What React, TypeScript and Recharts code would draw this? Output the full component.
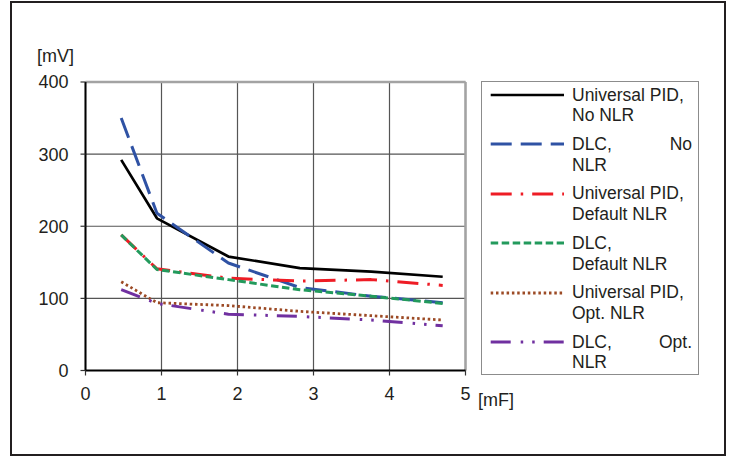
import React from 'react';
import { LineChart, Line, XAxis, YAxis, CartesianGrid, ReferenceLine } from 'recharts';

// Capacitance [mF]
const capacitance = [0.47, 0.94, 1.88, 2.82, 3.76, 4.7];
// Deviation [mV]
const pidNoNlr = [292, 211, 158, 142, 137, 130];
const dlcNoNlr = [350, 218, 149, 115, 103, 94];
const pidDefaultNlr = [188, 141, 128, 124, 126, 118];
const dlcDefaultNlr = [188, 140, 126, 112, 103, 93];
const pidOptNlr = [123, 94, 90, 82, 76, 70];
const dlcOptNlr = [112, 93, 78, 75, 70, 62];

const xTicks = [0, 1, 2, 3, 4, 5];
const yTicks = [0, 100, 200, 300, 400];

const seriesKeys = ['pidNo', 'dlcNo', 'pidDef', 'dlcDef', 'pidOpt', 'dlcOpt'];
const seriesValues = [pidNoNlr, dlcNoNlr, pidDefaultNlr, dlcDefaultNlr, pidOptNlr, dlcOptNlr];
const legendFirstLines = ['Universal PID,', 'DLC, No', 'Universal PID,', 'DLC,', 'Universal PID,', 'DLC, Opt.'];
const legendSecondLines = ['No NLR', 'NLR', 'Default NLR', 'Default NLR', 'Opt. NLR', 'NLR'];
const legendJustified = [false, true, false, false, false, true];

const seriesStyles = [
  { color: '#000000', dash: undefined as string | undefined, width: 2.7 },
  { color: '#2F52A4', dash: '21 9', width: 3 },
  { color: '#EE1C25', dash: '21 9 2.5 9', width: 3 },
  { color: '#239A5C', dash: '7.5 3.5', width: 3 },
  { color: '#9C4A25', dash: '2.5 2.8', width: 2.8 },
  { color: '#7030A0', dash: '20 10 2.5 9 2.5 9', width: 3 },
];

const data = capacitance.map((x, i) => {
  const row: Record<string, number> = { x };
  seriesKeys.forEach((k, s) => {
    row[k] = seriesValues[s][i];
  });
  return row;
});

const FONT = '"Liberation Sans", Arial, sans-serif';
const TEXT = '#231f20';

export default function App() {
  return (
    <div style={{ position: 'absolute', left: 0, top: 0, width: 730, height: 457, background: '#fff', fontFamily: FONT }}>
      <div
        style={{
          position: 'absolute',
          left: 10,
          top: 1,
          width: 716,
          height: 455,
          border: '2.5px solid #231f20',
          boxSizing: 'border-box',
        }}
      />
      <div style={{ position: 'absolute', left: 0, top: 0 }}>
        <LineChart width={730} height={457} data={data} margin={{ top: 82, right: 264.5, bottom: 56.5, left: 0 }}>
          <CartesianGrid stroke="#555" strokeWidth={1.2} />
          <ReferenceLine y={400} stroke="#a3a3a3" strokeWidth={2.5} />
          <ReferenceLine x={5} stroke="#a3a3a3" strokeWidth={2.5} />
          <XAxis
            dataKey="x"
            type="number"
            domain={[0, 5]}
            ticks={xTicks}
            height={30}
            tickSize={5}
            tickMargin={12}
            axisLine={{ stroke: '#000', strokeWidth: 2 }}
            tickLine={{ stroke: '#333', strokeWidth: 1.2 }}
            tick={{ fill: TEXT, fontSize: 18, fontFamily: FONT }}
            label={{
              content: (props: any) => {
                const vb = props.viewBox || { x: 85.5, y: 370.5, width: 380 };
                return (
                  <text x={vb.x + vb.width + 12.5} y={vb.y + 35.5} fill={TEXT} fontSize={18} fontFamily={FONT}>
                    [mF]
                  </text>
                );
              },
            }}
          />
          <YAxis
            type="number"
            domain={[0, 400]}
            ticks={yTicks}
            width={85.5}
            tickSize={5}
            tickMargin={12}
            axisLine={{ stroke: '#000', strokeWidth: 2 }}
            tickLine={{ stroke: '#333', strokeWidth: 1.2 }}
            tick={{ fill: TEXT, fontSize: 18, fontFamily: FONT }}
            label={{
              content: (props: any) => {
                const vb = props.viewBox || { x: 0, y: 82 };
                return (
                  <text x={vb.x + 37} y={vb.y - 20} fill={TEXT} fontSize={18} fontFamily={FONT}>
                    [mV]
                  </text>
                );
              },
            }}
          />
          {seriesKeys.map((k, s) => (
            <Line
              key={k}
              type="linear"
              dataKey={k}
              stroke={seriesStyles[s].color}
              strokeWidth={seriesStyles[s].width}
              strokeDasharray={seriesStyles[s].dash}
              strokeLinecap="butt"
              strokeLinejoin="round"
              dot={false}
              activeDot={false}
              isAnimationActive={false}
            />
          ))}
        </LineChart>
      </div>
      <div
        style={{
          position: 'absolute',
          left: 481,
          top: 81,
          width: 218,
          height: 294,
          border: '1.5px solid #8c8c8c',
          boxSizing: 'border-box',
        }}
      />
      {seriesKeys.map((k, s) => {
        const cy = 95 + s * 49.4;
        const st = seriesStyles[s];
        return (
          <React.Fragment key={k}>
            <svg style={{ position: 'absolute', left: 490, top: cy - 4, overflow: 'visible' }} width={75} height={8}>
              <line
                x1={0.7}
                x2={74}
                y1={4}
                y2={4}
                stroke={st.color}
                strokeWidth={st.width}
                strokeDasharray={st.dash}
                strokeLinecap="butt"
              />
            </svg>
            <div
              style={{
                position: 'absolute',
                left: 572,
                top: cy - 10.4,
                width: 120,
                fontSize: 17.5,
                lineHeight: '20.8px',
                color: TEXT,
                whiteSpace: 'nowrap',
              }}
            >
              {legendJustified[s] ? (
                <div style={{ display: 'flex', justifyContent: 'space-between' }}>
                  {legendFirstLines[s].split(' ').map((w, j) => (
                    <span key={j}>{w}</span>
                  ))}
                </div>
              ) : (
                <div>{legendFirstLines[s]}</div>
              )}
              <div>{legendSecondLines[s]}</div>
            </div>
          </React.Fragment>
        );
      })}
    </div>
  );
}
